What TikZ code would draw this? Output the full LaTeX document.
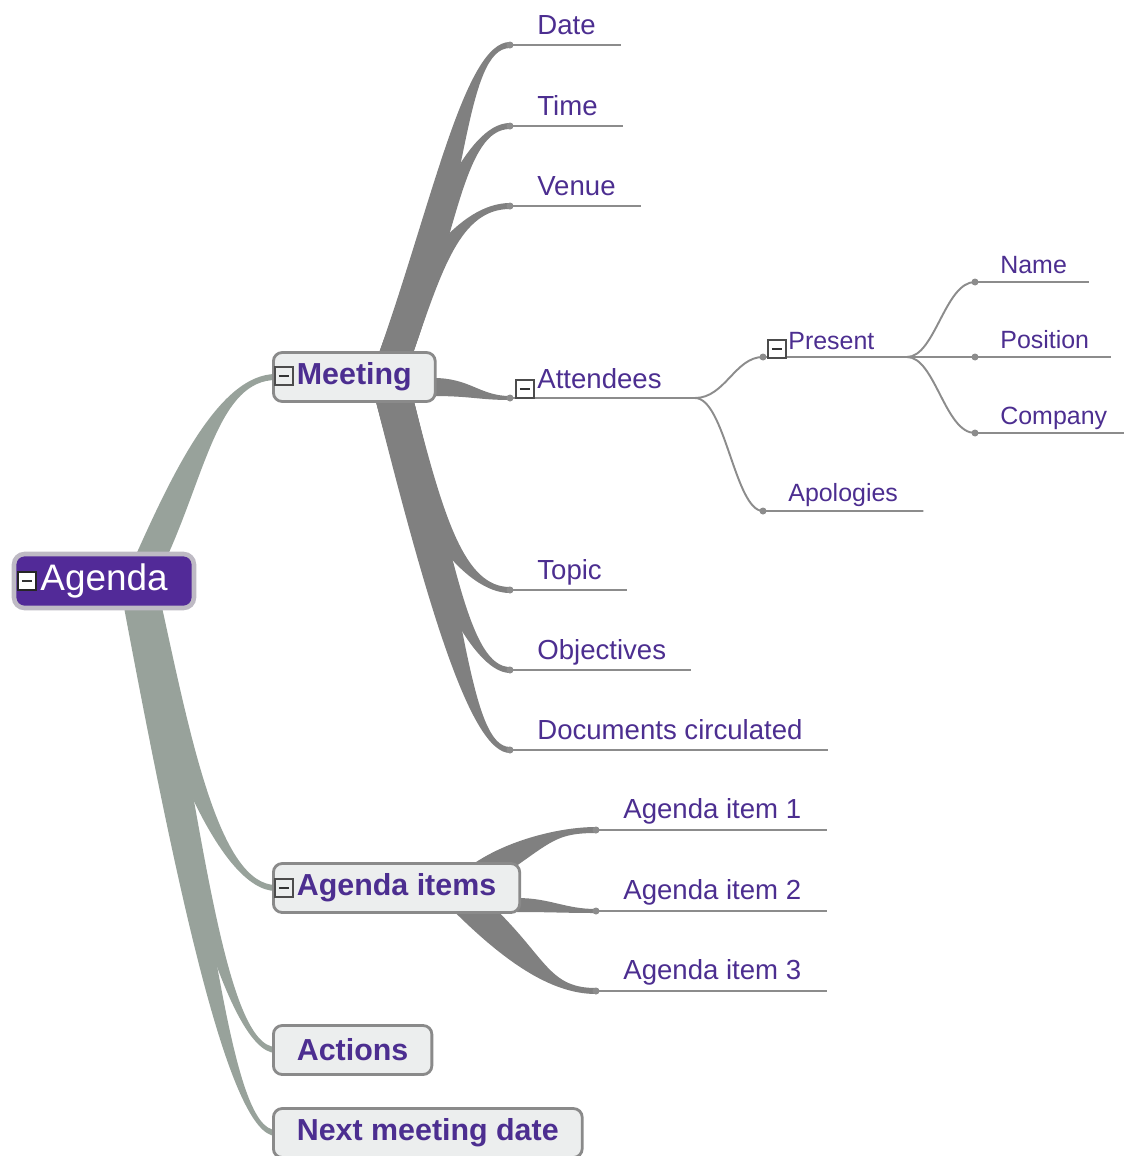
\documentclass[tikz,border=0pt]{standalone}
\usepackage{fontspec}
\setmainfont{Liberation Sans}
\usetikzlibrary{positioning, calc}

\definecolor{roxo}{RGB}{76,46,144}
\definecolor{roxoraiz}{RGB}{82,42,152}
\definecolor{bordaraiz}{RGB}{190,186,196}
\definecolor{verdecinza}{RGB}{152,162,155}
\definecolor{cinzaramo}{RGB}{128,128,128}
\definecolor{cinzalinha}{RGB}{140,140,140}
\definecolor{cinzacaixa}{RGB}{138,138,138}
\definecolor{fundocaixa}{RGB}{236,238,238}

\pgfdeclarelayer{fundo}
\pgfsetlayers{fundo,main}

%Ramo afunilado: cor, inicio, controle 1, controle 2, fim, meia largura (inicio), meia largura (fim)
\newcommand{\ramo}[7]{%
  \fill[#1] ($#2-#6$) .. controls ($#3-#6$) and ($#4-#7$) .. ($#5-#7$)
    -- ($#5+#7$) .. controls ($#4+#7$) and ($#3+#6$) .. ($#2+#6$) -- cycle;}

\begin{document}
\begin{tikzpicture}[x=0.02cm, y=-0.02cm,
    raiz/.style={draw=bordaraiz, line width=2.6pt, fill=roxoraiz, rounded corners=6pt,
      text=white, font=\fontsize{21}{25}\selectfont, minimum width=3.6cm, minimum height=1.08cm},
    caixa/.style={draw=cinzacaixa, line width=1.6pt, fill=fundocaixa, rounded corners=5pt,
      minimum height=0.98cm, inner xsep=0.47cm, text=roxo, anchor=west,
      font=\bfseries\fontsize{17.3}{20}\selectfont},
    rotulo/.style={text=roxo, font=\fontsize{15.7}{19}\selectfont, inner sep=0pt, anchor=base west},
    rotulopeq/.style={rotulo, font=\fontsize{14.2}{17}\selectfont},
    ponto/.style={circle, fill=cinzalinha, inner sep=0pt, minimum size=0.14cm},
    sublinha/.style={draw=cinzalinha, line width=1.1pt},
    menos/.style={draw=black!70, fill=fundocaixa, line width=0.9pt, minimum size=0.37cm, inner sep=0pt,
      path picture={\draw[black!80, line width=1.3pt]
        ([xshift=2.4pt]path picture bounding box.west) -- ([xshift=-2.4pt]path picture bounding box.east);}}
  ]
  \useasboundingbox (0,0) rectangle (1124,1156);

  %Caixas
  \node[raiz]  (agenda)  at (104,581)  {Agenda};
  \node[caixa] (meeting) at (272,377)  {Meeting};
  \node[caixa] (items)   at (272,888)  {Agenda items};
  \node[caixa] (actions) at (272,1050) {Actions};
  \node[caixa] (next)    at (272,1133) {Next meeting date};

  \node[menos, fill=white, draw=black!85] (m-agenda) at (27,581) {};
  \node[menos] (m-meeting) at (284,376) {};
  \node[menos] (m-items)   at (284,888) {};

  %Filhos de Meeting
  \foreach \nome/\y/\texto in {date/45/Date, time/126/Time, venue/206/Venue,
      topic/590/Topic, objectives/670/Objectives, docs/750/Documents circulated}{
    \node[ponto] (d-\nome) at (510,\y) {};
    \node[rotulo] (\nome) at ($(d-\nome)+(27,-11)$) {\texto};
    \begin{pgfonlayer}{fundo}
      \draw[sublinha] (d-\nome.center) -- ($(\nome.east |- d-\nome)+(25,0)$);
    \end{pgfonlayer}
  }

  \node[ponto] (d-att) at (510,398) {};
  \node[rotulo] (att) at ($(d-att)+(27,-10)$) {Attendees};
  \node[menos, fill=white] (m-att) at ($(d-att)+(15,-9)$) {};
  \coordinate (j-att) at (695,398);

  \node[ponto] (d-pres) at (763,357) {};
  \node[rotulopeq] (pres) at ($(d-pres)+(25,-8)$) {Present};
  \node[menos, fill=white] (m-pres) at ($(d-pres)+(14,-8)$) {};
  \coordinate (j-pres) at (907,357);

  \node[ponto] (d-apol) at (763,511) {};
  \node[rotulopeq] (apol) at ($(d-apol)+(25,-10)$) {Apologies};

  \foreach \nome/\y/\texto in {name/282/Name, position/357/Position, company/433/Company}{
    \node[ponto] (d-\nome) at (975,\y) {};
    \node[rotulopeq] (\nome) at ($(d-\nome)+(25,-9)$) {\texto};
    \begin{pgfonlayer}{fundo}
      \draw[sublinha] (d-\nome.center) -- ($(\nome.east |- d-\nome)+(22,0)$);
    \end{pgfonlayer}
  }

  %Filhos de Agenda items
  \foreach \nome/\y/\texto in {i1/830/Agenda item 1, i2/911/Agenda item 2, i3/991/Agenda item 3}{
    \node[ponto] (d-\nome) at (596,\y) {};
    \node[rotulo] (\nome) at ($(d-\nome)+(27,-12)$) {\texto};
    \begin{pgfonlayer}{fundo}
      \draw[sublinha] (d-\nome.center) -- ($(\nome.east |- d-\nome)+(25,0)$);
    \end{pgfonlayer}
  }

  \begin{pgfonlayer}{fundo}
    %Ramos de Agenda
    \ramo{verdecinza}{(agenda.north)+(48,3)}{(190,470)}{(220,377)}{(meeting.west)+(4,0)}{(16,0)}{(0,3)}
    \ramo{verdecinza}{(agenda.south)+(42,-3)}{(175,740)}{(220,888)}{(items.west)+(4,0)}{(16,0)}{(0,-3)}
    \ramo{verdecinza}{(agenda.south)+(39,-3)}{(185,820)}{(225,1050)}{(actions.west)+(4,0)}{(16,0)}{(0,-3)}
    \ramo{verdecinza}{(agenda.south)+(36,-3)}{(195,900)}{(230,1133)}{(next.west)+(4,0)}{(16,0)}{(0,-3)}

    %Ramos de Meeting
    \ramo{cinzaramo}{(meeting.north)+(41,4)}{(450,200)}{(465,45)}{(d-date)}{(17,0)}{(0,3)}
    \ramo{cinzaramo}{(meeting.north)+(41,4)}{(440,230)}{(465,126)}{(d-time)}{(17,0)}{(0,3)}
    \ramo{cinzaramo}{(meeting.north)+(41,4)}{(425,270)}{(460,206)}{(d-venue)}{(17,0)}{(0,3)}
    \ramo{cinzaramo}{(meeting.east)+(-3,10)}{(470,387)}{(480,398)}{(d-att)}{(0,9)}{(0,2)}
    \ramo{cinzaramo}{(meeting.south)+(40,-4)}{(425,520)}{(465,590)}{(d-topic)}{(19,0)}{(0,-3)}
    \ramo{cinzaramo}{(meeting.south)+(40,-4)}{(435,560)}{(470,670)}{(d-objectives)}{(19,0)}{(0,-3)}
    \ramo{cinzaramo}{(meeting.south)+(40,-4)}{(445,600)}{(470,750)}{(d-docs)}{(19,0)}{(0,-3)}

    %Ramos de Agenda items
    \ramo{cinzaramo}{(items.north)+(98,3)}{(530,840)}{(560,830)}{(d-i1)}{(23,0)}{(0,3)}
    \ramo{cinzaramo}{(items.east)+(-4,17)}{(550,905)}{(565,911)}{(d-i2)}{(0,7)}{(0,2)}
    \ramo{cinzaramo}{(items.south)+(79,-3)}{(525,960)}{(550,991)}{(d-i3)}{(22,0)}{(0,-3)}

    %Attendees e Present
    \draw[sublinha] (d-att.center) -- (j-att);
    \draw[sublinha] (j-att) .. controls (725,398) and (735,357) .. (d-pres.center) -- (j-pres);
    \draw[sublinha] (j-att) .. controls (725,398) and (735,511) .. (d-apol.center)
      -- ($(apol.east |- d-apol)+(25,0)$);
    \draw[sublinha] (j-pres) .. controls (935,357) and (945,282) .. (d-name.center);
    \draw[sublinha] (j-pres) .. controls (935,357) and (945,433) .. (d-company.center);
    \draw[sublinha] (j-pres) -- (d-position.center);
  \end{pgfonlayer}
\end{tikzpicture}
\end{document}
